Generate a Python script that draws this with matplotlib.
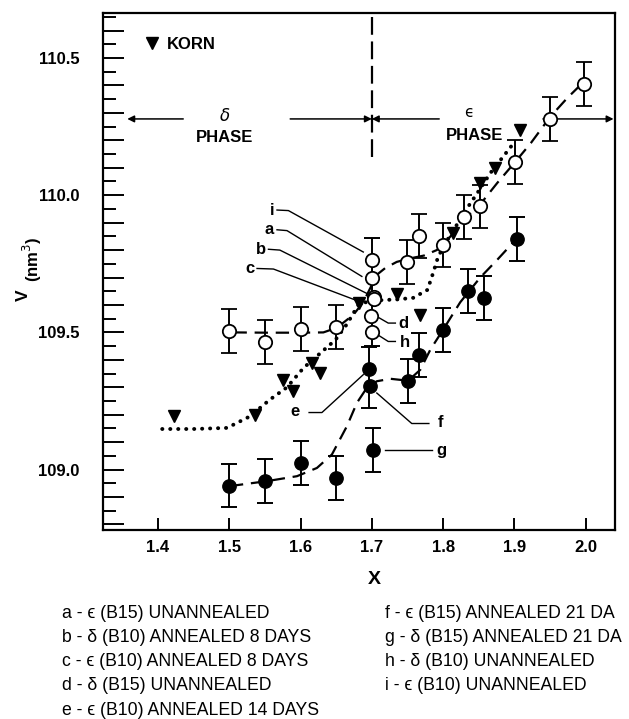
import matplotlib
matplotlib.use('Agg')
from matplotlib import pyplot as plt
from matplotlib.ticker import MultipleLocator, FuncFormatter

plt.rcParams['font.family'] = ['Liberation Sans', 'DejaVu Sans']

# open circles (a, b, c, d, h, i and the epsilon/delta unannealed series)
open_x = [1.5, 1.55, 1.6, 1.65, 1.749, 1.766, 1.80, 1.829, 1.851, 1.901, 1.95, 1.997]
open_v = [109.504, 109.466, 109.513, 109.52, 109.758, 109.853, 109.817, 109.922, 109.959, 110.121, 110.277, 110.405]
# cluster at x = 1.7: i, a, b, c, d, h
clus_open_x = [1.70, 1.70, 1.703, 1.703, 1.699, 1.70]
clus_open_v = [109.765, 109.698, 109.628, 109.622, 109.56, 109.50]

# filled circles
filled_x = [1.5, 1.55, 1.6, 1.65, 1.751, 1.766, 1.80, 1.835, 1.857, 1.903]
filled_v = [108.942, 108.958, 109.025, 108.97, 109.324, 109.419, 109.51, 109.652, 109.627, 109.841]
# e, f, g at x = 1.7
clus_fill_x = [1.696, 1.697, 1.702]
clus_fill_v = [109.367, 109.306, 109.073]

err = 0.08

# Korn data (triangles)
korn_x = [1.422, 1.536, 1.576, 1.590, 1.616, 1.628, 1.682, 1.735, 1.767, 1.814, 1.852, 1.873, 1.908]
korn_v = [109.194, 109.20, 109.328, 109.285, 109.389, 109.352, 109.607, 109.641, 109.564, 109.864, 110.046, 110.098, 110.238]

# hand drawn curves
curve_open_x = [1.506, 1.553, 1.6, 1.632, 1.651, 1.674, 1.688, 1.707, 1.719, 1.735, 1.754, 1.773, 1.791, 1.81, 1.829, 1.853, 1.876, 1.9, 1.923, 1.95, 1.974, 1.992]
curve_open_v = [109.50, 109.499, 109.499, 109.50, 109.517, 109.564, 109.61, 109.71, 109.735, 109.757, 109.77, 109.78, 109.80, 109.849, 109.91, 109.97, 110.045, 110.118, 110.19, 110.285, 110.354, 110.40]

curve_fill_x = [1.501, 1.553, 1.595, 1.623, 1.644, 1.665, 1.679, 1.693, 1.707, 1.726, 1.751, 1.768, 1.782, 1.80, 1.824, 1.852, 1.876, 1.899]
curve_fill_v = [108.94, 108.958, 108.976, 109.006, 109.055, 109.158, 109.243, 109.298, 109.322, 109.331, 109.324, 109.364, 109.437, 109.51, 109.61, 109.70, 109.765, 109.83]

curve_korn_x = [1.406, 1.45, 1.497, 1.529, 1.557, 1.581, 1.604, 1.628, 1.649, 1.665, 1.681, 1.697, 1.716, 1.735, 1.758, 1.778, 1.786, 1.793, 1.806, 1.835, 1.848, 1.866, 1.884, 1.899]
curve_korn_v = [109.148, 109.148, 109.152, 109.194, 109.255, 109.30, 109.37, 109.425, 109.473, 109.53, 109.60, 109.615, 109.618, 109.62, 109.626, 109.655, 109.717, 109.776, 109.837, 109.958, 110.008, 110.08, 110.14, 110.19]

legend_left = ['a - \u03f5 (B15) UNANNEALED', 'b - \u03b4 (B10) ANNEALED 8 DAYS', 'c - \u03f5 (B10) ANNEALED 8 DAYS',
               'd - \u03b4 (B15) UNANNEALED', 'e - \u03f5 (B10) ANNEALED 14 DAYS']
legend_right = ['f - \u03f5 (B15) ANNEALED 21 DA', 'g - \u03b4 (B15) ANNEALED 21 DA', 'h - \u03b4 (B10) UNANNEALED',
                'i - \u03f5 (B10) UNANNEALED']

fig = plt.figure(figsize=(6.29, 7.19), dpi=100)
ax = fig.add_axes([0.1638, 0.2629, 0.8139, 0.719])

ms = 9.6
ebkw = dict(capsize=5.5, elinewidth=1.4, capthick=1.4, ecolor='black', zorder=3)

ax.plot(curve_open_x, curve_open_v, color='black', lw=1.6, dashes=(6, 3.5), zorder=2)
ax.plot(curve_fill_x, curve_fill_v, color='black', lw=1.6, dashes=(6, 3.5), zorder=2)
ax.plot(curve_korn_x, curve_korn_v, color='black', lw=2.8, linestyle=(0, (0.05, 2.0)),
        dash_capstyle='round', zorder=2)

ax.errorbar(open_x, open_v, yerr=err, fmt='o', ms=ms, mfc='white', mec='black', mew=1.3, **ebkw)
ax.errorbar(filled_x, filled_v, yerr=err, fmt='o', ms=ms, mfc='black', mec='black', **ebkw)

# single bars through the clusters at x = 1.7
ax.errorbar([clus_open_x[0]], [clus_open_v[0]],
            yerr=[[clus_open_v[0] - clus_open_v[-1] + 0.05], [err]], fmt='none', **ebkw)
ax.errorbar([clus_fill_x[0]], [clus_fill_v[0]],
            yerr=[[clus_fill_v[0] - clus_fill_v[1] + err], [err]], fmt='none', **ebkw)
ax.errorbar([clus_fill_x[2]], [clus_fill_v[2]], yerr=err, fmt='none', **ebkw)
ax.plot(clus_open_x, clus_open_v, 'o', ms=ms, mfc='white', mec='black', mew=1.3, zorder=4)
ax.plot(clus_fill_x, clus_fill_v, 'o', ms=ms, mfc='black', mec='black', zorder=4)

ax.plot(korn_x, korn_v, 'v', ms=9, color='black', zorder=4)

# phase boundary and arrows
ax.plot([1.7, 1.7], [110.14, 110.67], color='black', lw=1.6, dashes=(8, 3), zorder=1)
arr = dict(arrowstyle='-|>', color='black', lw=1.1, mutation_scale=10, shrinkA=0, shrinkB=0)
ya = 110.278
ax.annotate('', xy=(1.357, ya), xytext=(1.4355, ya), arrowprops=arr)
ax.annotate('', xy=(1.7, ya), xytext=(1.5855, ya), arrowprops=arr)
ax.annotate('', xy=(1.7, ya), xytext=(1.7945, ya), arrowprops=arr)
ax.annotate('', xy=(2.039, ya), xytext=(1.94, ya), arrowprops=arr)
ax.text(1.494, 110.29, '\u03b4', ha='center', va='center', fontsize=12, style='italic', family='DejaVu Sans')
ax.text(1.494, 110.212, 'PHASE', ha='center', va='center', fontsize=12, fontweight='bold')
ax.text(1.836, 110.30, '\u03f5', ha='center', va='center', fontsize=11, family='DejaVu Sans')
ax.text(1.844, 110.216, 'PHASE', ha='center', va='center', fontsize=12, fontweight='bold')

# Korn key
ax.plot([1.391], [110.555], 'v', ms=9, color='black')
ax.text(1.413, 110.548, 'KORN', ha='left', va='center', fontsize=12, fontweight='bold')

# leader lines and letters
leaders = [
    ('i', (1.567, 109.946), [(1.567, 109.946), (1.583, 109.944), (1.688, 109.793)], 'right'),
    ('a', (1.567, 109.874), [(1.567, 109.874), (1.581, 109.871), (1.686, 109.704)], 'right'),
    ('b', (1.555, 109.803), [(1.555, 109.803), (1.571, 109.80), (1.693, 109.642)], 'right'),
    ('c', (1.539, 109.733), [(1.539, 109.733), (1.562, 109.731), (1.679, 109.616)], 'right'),
    ('d', (1.737, 109.534), [(1.707, 109.558), (1.723, 109.534), (1.733, 109.534)], 'left'),
    ('h', (1.740, 109.462), [(1.706, 109.495), (1.723, 109.467), (1.733, 109.467)], 'left'),
    ('e', (1.603, 109.210), [(1.612, 109.208), (1.630, 109.208), (1.688, 109.346)], 'right'),
    ('f', (1.792, 109.172), [(1.707, 109.279), (1.756, 109.168), (1.780, 109.168)], 'left'),
    ('g', (1.790, 109.070), [(1.719, 109.073), (1.784, 109.073)], 'left'),
]
for lab, tpos, path, ha in leaders:
    ax.plot([p[0] for p in path], [p[1] for p in path], color='black', lw=1.0, zorder=1)
    ax.text(tpos[0] - (0.004 if ha == 'right' else 0), tpos[1], lab, ha=ha, va='center',
            fontsize=12, fontweight='bold')

ax.set_xlim(1.323, 2.041)
ax.set_ylim(108.78, 110.664)

for s in ['top', 'right', 'left', 'bottom']:
    ax.spines[s].set_linewidth(1.6)

ax.xaxis.set_major_locator(MultipleLocator(0.1))
ax.xaxis.set_major_formatter(FuncFormatter(lambda v, p: '%.1f' % v))
ax.yaxis.set_major_locator(MultipleLocator(0.1))
ax.yaxis.set_minor_locator(MultipleLocator(0.05))
ax.yaxis.set_major_formatter(FuncFormatter(lambda v, p: '%.1f' % v if abs(v * 2 - round(v * 2)) < 1e-6 else ''))
ax.tick_params(axis='both', which='both', direction='in', top=False, right=False, width=1.4)
ax.tick_params(axis='y', which='major', length=15, pad=17, labelsize=12)
ax.tick_params(axis='y', which='minor', length=9)
ax.tick_params(axis='x', which='major', length=9, pad=7, labelsize=12)
for t in ax.get_xticklabels() + ax.get_yticklabels():
    t.set_fontweight('bold')

fig.text(23 / 629, 1 - 295 / 719, 'V', rotation=90, ha='center', va='center', fontsize=12.5, fontweight='bold')
fig.text(32 / 629, 1 - 259 / 719, '(nm$^3$)', rotation=90, ha='center', va='center', fontsize=12, fontweight='bold')
fig.text(374 / 629, 1 - 580 / 719, 'X', ha='center', va='center', fontsize=14, fontweight='bold')

for k, s in enumerate(legend_left):
    fig.text(62 / 629, 1 - (613 + 24.3 * k) / 719, s, ha='left', va='center', fontsize=12.7)
for k, s in enumerate(legend_right):
    fig.text(385 / 629, 1 - (613 + 24.3 * k) / 719, s, ha='left', va='center', fontsize=12.7)

fig.savefig('out.png', dpi=100)
